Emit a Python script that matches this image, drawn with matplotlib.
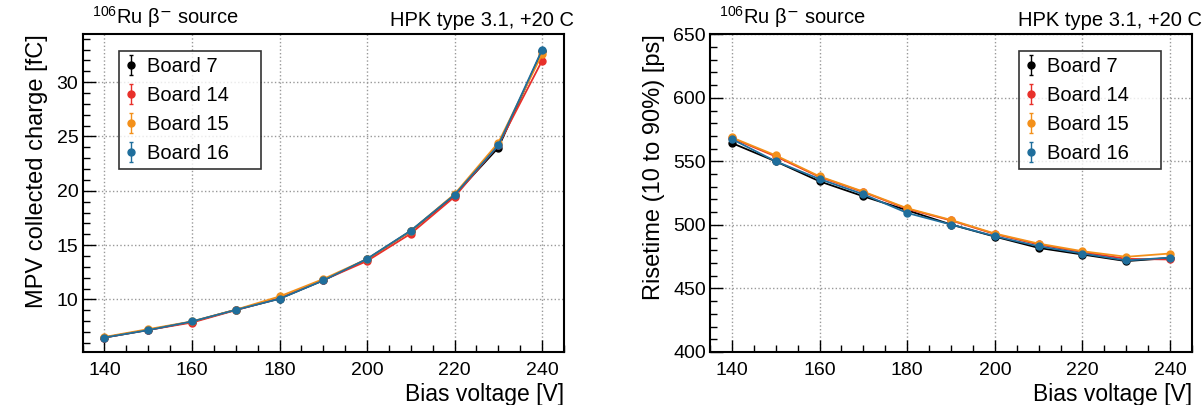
import numpy as np
import matplotlib
matplotlib.use("Agg")
import matplotlib.pyplot as plt
from matplotlib.ticker import MultipleLocator

plt.rcParams['font.family'] = ['Liberation Sans', 'DejaVu Sans']
plt.rcParams['mathtext.fontset'] = 'custom'
plt.rcParams['mathtext.rm'] = 'Liberation Sans'
plt.rcParams['mathtext.it'] = 'Liberation Sans'

# bias voltage points
bias = [140, 150, 160, 170, 180, 190, 200, 210, 220, 230, 240]
boards = ["Board 7", "Board 14", "Board 15", "Board 16"]
colors = ["black", "#e8302a", "#f3901a", "#1f6e9c"]

# MPV collected charge [fC]
charge_b7 = [6.5, 7.2, 7.95, 9.05, 10.08, 11.76, 13.70, 16.30, 19.60, 23.97, 32.9]
charge_b14 = [6.5, 7.2, 7.88, 9.02, 10.10, 11.78, 13.54, 16.06, 19.45, 24.20, 31.97]
charge_b15 = [6.55, 7.27, 7.98, 9.06, 10.28, 11.88, 13.72, 16.30, 19.70, 24.43, 32.58]
charge_b16 = [6.5, 7.18, 7.98, 9.04, 10.06, 11.75, 13.74, 16.34, 19.63, 24.18, 32.98]
charge_err = [0.05, 0.05, 0.05, 0.06, 0.07, 0.08, 0.09, 0.1, 0.12, 0.15, 0.2]

# risetime (10 to 90%) [ps]
rise_b7 = [564.4, 550.0, 534.3, 522.5, 511.5, 500.3, 490.8, 481.9, 476.7, 471.5, 474.0]
rise_b14 = [568.3, 553.9, 537.7, 525.8, 512.6, 503.5, 492.8, 484.6, 478.5, 473.3, 472.8]
rise_b15 = [568.8, 554.7, 538.2, 526.2, 513.1, 503.9, 493.2, 485.3, 479.3, 474.9, 477.5]
rise_b16 = [567.5, 550.0, 536.1, 524.1, 509.4, 500.3, 491.1, 483.2, 477.5, 472.0, 474.3]
rise_err = [1.0] * len(bias)

charge = [charge_b7, charge_b14, charge_b15, charge_b16]
rise = [rise_b7, rise_b14, rise_b15, rise_b16]

fig = plt.figure(figsize=(12.02, 4.05), dpi=100)
ax1 = fig.add_axes([0.0687, 0.1309, 0.4005, 0.7844])
ax2 = fig.add_axes([0.5907, 0.1309, 0.4010, 0.7844])


def draw(ax, series, err, ylabel, ylim, ymaj, ymin, legx):
    handles = []
    for vals, col, lab in zip(series, colors, boards):
        ax.errorbar(bias, vals, yerr=err, color=col, marker='o', ms=5,
                    lw=1.3, elinewidth=1.0, capsize=1.5)
        # legend entry: marker + error bar, no line (ROOT "ep" style)
        h = ax.errorbar([np.nan], [np.nan], yerr=[1], color=col, fmt='o', ms=5,
                        elinewidth=1.0, capsize=1.5, label=lab)
        handles.append(h)
    ax.set_xlim(135, 245)
    ax.set_ylim(*ylim)
    ax.xaxis.set_major_locator(MultipleLocator(20))
    ax.xaxis.set_minor_locator(MultipleLocator(5))
    ax.yaxis.set_major_locator(MultipleLocator(ymaj))
    ax.yaxis.set_minor_locator(MultipleLocator(ymin))
    ax.tick_params(which='both', direction='in', labelsize=14, top=False, right=False)
    ax.tick_params(which='major', length=9, width=1)
    ax.tick_params(which='minor', length=5, width=1)
    ax.tick_params(axis='x', pad=7)
    ax.tick_params(axis='y', pad=3)
    ax.grid(True, which='major', ls=':', color='#999999', lw=1)
    for s in ax.spines.values():
        s.set_linewidth(1.5)
    ax.set_xlabel("Bias voltage [V]", fontsize=16.5, loc='right', labelpad=3)
    ax.set_ylabel(ylabel, fontsize=17, loc='top', labelpad=6)
    leg = ax.legend(handles=handles, loc='upper left',
                    bbox_to_anchor=(legx[0], legx[1] - 0.37, 0.295, 0.37),
                    mode='expand', fontsize=14.5,
                    frameon=True, fancybox=False, edgecolor='black',
                    handlelength=0.6, handletextpad=0.5, labelspacing=0.5,
                    borderpad=0.3, borderaxespad=0)
    leg.get_frame().set_linewidth(1.2)
    ax.text(0.019, 1.012, r"$^{106}$Ru β$^{\mathsf{-}}$ source", transform=ax.transAxes,
            fontsize=14.5, ha='left', va='bottom')
    ax.text(1.02, 1.012, "HPK type 3.1, +20 C", transform=ax.transAxes,
            fontsize=14.5, ha='right', va='bottom')


draw(ax1, charge, charge_err, "MPV collected charge [fC]", (5.17, 34.4), 5, 1, (0.076, 0.947))
draw(ax2, rise, rise_err, "Risetime (10 to 90%) [ps]", (400, 650), 50, 10, (0.641, 0.947))

fig.savefig("out.png", dpi=100)
